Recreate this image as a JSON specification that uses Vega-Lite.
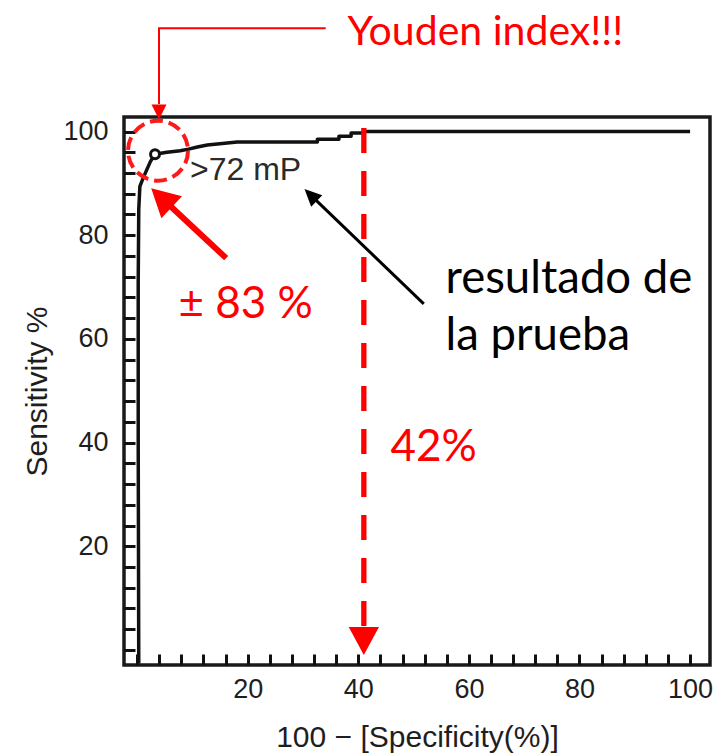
{
  "$schema": "https://vega.github.io/schema/vega-lite/v6.json",
  "autosize": {"type": "none"},
  "width": 586,
  "height": 548,
  "padding": {"left": 124, "top": 117, "right": 8, "bottom": 91},
  "background": "white",
  "config": {
    "view": {"stroke": "#1a1a1a", "strokeWidth": 3.5},
    "axis": {
      "grid": false,
      "domain": false,
      "tickColor": "#111111",
      "tickWidth": 3,
      "tickSize": -11,
      "labelFont": "Liberation Sans",
      "labelFontSize": 27,
      "labelColor": "#1e1e1e",
      "labelOverlap": false,
      "labelFlush": false,
      "titleFont": "Liberation Sans",
      "titleFontSize": 30,
      "titleFontWeight": "normal",
      "titleColor": "#1e1e1e"
    }
  },
  "datasets": {
    "roc": [
      {"x": 0.3, "y": -2.6, "k": 0},
      {"x": 0.2, "y": 40, "k": 1},
      {"x": 0.2, "y": 71, "k": 2},
      {"x": 0.3, "y": 85, "k": 3},
      {"x": 0.5, "y": 89.4, "k": 4},
      {"x": 1.2, "y": 91.3, "k": 5},
      {"x": 2.4, "y": 94.2, "k": 6},
      {"x": 3.2, "y": 95.6, "k": 7},
      {"x": 5.4, "y": 96.0, "k": 8},
      {"x": 7.8, "y": 96.3, "k": 9},
      {"x": 9.3, "y": 96.6, "k": 10},
      {"x": 10.9, "y": 97.0, "k": 11},
      {"x": 12.7, "y": 97.4, "k": 12},
      {"x": 14.5, "y": 97.6, "k": 13},
      {"x": 18.1, "y": 98.0, "k": 14},
      {"x": 32.6, "y": 98.0, "k": 15},
      {"x": 32.6, "y": 98.5, "k": 16},
      {"x": 36.5, "y": 98.5, "k": 17},
      {"x": 36.5, "y": 99.1, "k": 18},
      {"x": 38.7, "y": 99.1, "k": 19},
      {"x": 38.7, "y": 99.7, "k": 20},
      {"x": 41.0, "y": 99.7, "k": 21},
      {"x": 41.0, "y": 100, "k": 22},
      {"x": 100, "y": 100, "k": 23}
    ],
    "youden": [{"x": 3.24, "y": 95.6}],
    "ring": [{"x": 3.78, "y": 96.3}],
    "cutoff": [{"x": 9.57, "y": 90.68, "label": ">72 mP"}],
    "yline": [
      {"x": 34.1, "y": 119.9, "k": 0},
      {"x": 3.96, "y": 119.9, "k": 1},
      {"x": 3.96, "y": 105.3, "k": 2}
    ],
    "yhead": [{"x": 3.96, "y": 102.3}],
    "redline": [
      {"x": 16.11, "y": 75.57, "k": 0},
      {"x": 5.71, "y": 85.92, "k": 1}
    ],
    "redhead": [{"x": 2.55, "y": 89.08}],
    "blackline": [
      {"x": 51.84, "y": 66.76, "k": 0},
      {"x": 32.1, "y": 87.0, "k": 1}
    ],
    "blackhead": [{"x": 30.27, "y": 88.89}],
    "spec": [{"x": 41.0, "y": 100.7, "y2": 3.9}],
    "spechead": [{"x": 41.0, "y": -0.97}],
    "redtxt": [
      {"x": 38.05, "y": 116.6, "label": "Youden index!!!", "s": "a"},
      {"x": 7.49, "y": 64.0, "label": "± 83 %", "s": "b"},
      {"x": 45.82, "y": 36.46, "label": "42%", "s": "b"}
    ],
    "blacktxt": [
      {"x": 55.77, "y": 68.88, "label": "resultado de"},
      {"x": 55.77, "y": 57.88, "label": "la prueba"}
    ]
  },
  "encoding": {
    "x": {
      "field": "x",
      "type": "quantitative",
      "scale": {"domain": [-2.37, 103.6], "nice": false, "zero": false},
      "axis": {
        "title": "100 − [Specificity(%)]",
        "values": [0, 4, 8, 12, 16, 20, 24, 28, 32, 36, 40, 44, 48, 52, 56, 60, 64, 68, 72, 76, 80, 84, 88, 92, 96, 100],
        "labelExpr": "datum.value % 20 === 0 && datum.value > 0 ? datum.label : ''",
        "labelPadding": 22,
        "titlePadding": 20
      }
    },
    "y": {
      "field": "y",
      "type": "quantitative",
      "scale": {"domain": [-2.9, 102.8], "nice": false, "zero": false},
      "axis": {
        "title": "Sensitivity %",
        "values": [0, 4, 8, 12, 16, 20, 24, 28, 32, 36, 40, 44, 48, 52, 56, 60, 64, 68, 72, 76, 80, 84, 88, 92, 96, 100],
        "labelExpr": "datum.value % 20 === 0 && datum.value > 0 ? datum.label : ''",
        "labelPadding": 27,
        "titlePadding": 10
      }
    }
  },
  "layer": [
    {
      "data": {"name": "roc"},
      "mark": {"type": "line", "color": "#111111", "strokeWidth": 3.5, "clip": false, "strokeJoin": "round"},
      "encoding": {"order": {"field": "k", "type": "quantitative"}}
    },
    {
      "data": {"name": "youden"},
      "mark": {"type": "point", "shape": "circle", "filled": true, "fill": "white", "stroke": "#111111", "strokeWidth": 3, "size": 80, "opacity": 1, "clip": false}
    },
    {
      "data": {"name": "cutoff"},
      "mark": {"type": "text", "align": "left", "baseline": "alphabetic", "font": "Liberation Sans", "fontSize": 32, "color": "#2a2a2a", "clip": false},
      "encoding": {"text": {"field": "label"}}
    },
    {
      "data": {"name": "ring"},
      "mark": {"type": "point", "shape": "circle", "filled": false, "stroke": "#ff1a1a", "strokeWidth": 4, "strokeDash": [13, 6], "size": 3600, "opacity": 1, "clip": false}
    },
    {
      "data": {"name": "yline"},
      "mark": {"type": "line", "color": "#ff0000", "strokeWidth": 2, "clip": false},
      "encoding": {"order": {"field": "k", "type": "quantitative"}}
    },
    {
      "data": {"name": "yhead"},
      "mark": {"type": "point", "shape": "M0,0L-0.5,-1L0.5,-1Z", "filled": true, "color": "#ff0000", "size": 900, "opacity": 1, "clip": false}
    },
    {
      "data": {"name": "redline"},
      "mark": {"type": "line", "color": "#ff0000", "strokeWidth": 6, "clip": false},
      "encoding": {"order": {"field": "k", "type": "quantitative"}}
    },
    {
      "data": {"name": "redhead"},
      "mark": {"type": "point", "shape": "M0,0L-0.54,-1L0.54,-1Z", "filled": true, "color": "#ff0000", "size": 3136, "angle": 133, "opacity": 1, "clip": false}
    },
    {
      "data": {"name": "blackline"},
      "mark": {"type": "line", "color": "#000000", "strokeWidth": 3, "clip": false},
      "encoding": {"order": {"field": "k", "type": "quantitative"}}
    },
    {
      "data": {"name": "blackhead"},
      "mark": {"type": "point", "shape": "M0,0L-0.47,-1L0.47,-1Z", "filled": true, "color": "#000000", "size": 1156, "angle": 134, "opacity": 1, "clip": false}
    },
    {
      "data": {"name": "spec"},
      "mark": {"type": "rule", "color": "#ff0000", "strokeWidth": 5.3, "strokeDash": [25, 18], "clip": false},
      "encoding": {"y2": {"field": "y2"}}
    },
    {
      "data": {"name": "spechead"},
      "mark": {"type": "point", "shape": "M0,0L-0.54,-1L0.54,-1Z", "filled": true, "color": "#ff0000", "size": 3136, "opacity": 1, "clip": false}
    },
    {
      "data": {"name": "redtxt"},
      "mark": {"type": "text", "align": "left", "baseline": "alphabetic", "font": "Lato", "color": "#ff0000", "clip": false},
      "encoding": {
        "text": {"field": "label"},
        "size": {"field": "s", "type": "nominal", "scale": {"domain": ["a", "b"], "range": [41, 44]}, "legend": null}
      }
    },
    {
      "data": {"name": "blacktxt"},
      "mark": {"type": "text", "align": "left", "baseline": "alphabetic", "font": "Lato", "fontSize": 45.5, "color": "#000000", "clip": false},
      "encoding": {"text": {"field": "label"}}
    }
  ]
}
